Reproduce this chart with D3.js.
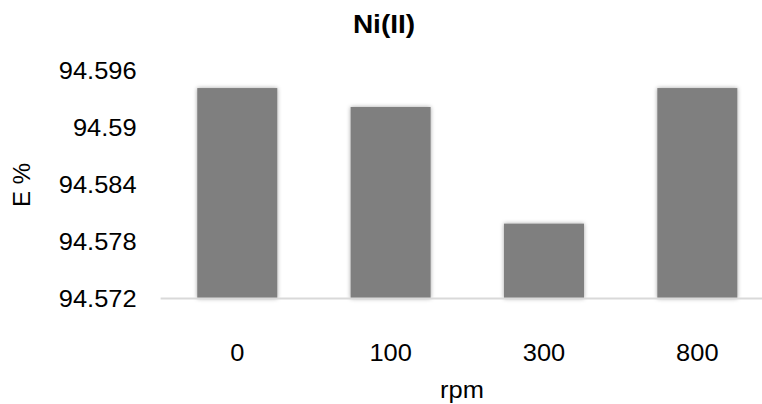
<!DOCTYPE html>
<html>
<head>
<meta charset="utf-8">
<script src="https://cdn.jsdelivr.net/npm/d3@7"></script>
<style>
  html, body { margin: 0; padding: 0; background: #fff; }
  svg { display: block; }
  text { font-family: "Liberation Sans", Arial, sans-serif; fill: #000; }
</style>
</head>
<body>
<svg id="chart" width="762" height="404"></svg>
<script>
const categories = ["0", "100", "300", "800"];
const values = [94.5942, 94.5922, 94.5799, 94.5942];
const yTicks = [94.572, 94.578, 94.584, 94.59, 94.596];
const title = "Ni(II)";
const xTitle = "rpm";
const yTitle = "E %";

const W = 762, H = 404;
const svg = d3.select("#chart");

const defs = svg.append("defs");
const f = defs.append("filter").attr("id", "shadow")
  .attr("x", "-20%").attr("y", "-10%").attr("width", "140%").attr("height", "120%");
f.append("feDropShadow").attr("dx", 0).attr("dy", 0)
  .attr("stdDeviation", 2).attr("flood-color", "#000").attr("flood-opacity", 0.35);

const x = d3.scaleBand().domain(categories).range([160.6, 774]).paddingInner(0.478).paddingOuter(0.239);
const y = d3.scaleLinear().domain([94.572, 94.596]).range([298.5, 71]);

function stretch(sel, k) {
  sel.each(function () {
    const len = this.getComputedTextLength();
    d3.select(this).attr("textLength", len * k).attr("lengthAdjust", "spacingAndGlyphs");
  });
}

// bars
svg.append("g").selectAll("rect")
  .data(values)
  .join("rect")
  .attr("x", (d, i) => x(categories[i]))
  .attr("width", x.bandwidth())
  .attr("y", d => y(d))
  .attr("height", d => y(94.572) - y(d))
  .attr("fill", "#7f7f7f")
  .attr("filter", "url(#shadow)");

// x axis line
svg.append("line")
  .attr("x1", x.range()[0]).attr("x2", x.range()[1])
  .attr("y1", y(94.572)).attr("y2", y(94.572))
  .attr("stroke", "#d9d9d9").attr("stroke-width", 2);

// y axis
const yAxis = svg.append("g")
  .attr("transform", "translate(160.6,0)")
  .call(d3.axisLeft(y).tickValues(yTicks).tickSize(0).tickPadding(24).tickFormat(d => String(+d.toFixed(3))));
yAxis.select(".domain").remove();
yAxis.selectAll("text")
  .attr("font-size", 24)
  .attr("font-family", "Liberation Sans, Arial, sans-serif")
  .attr("fill", "#000")
  .call(stretch, 1.06);

// x axis labels
const xAxis = svg.append("g")
  .attr("transform", "translate(0,298.5)")
  .call(d3.axisBottom(x).tickSize(0).tickPadding(0));
xAxis.select(".domain").remove();
xAxis.selectAll("text")
  .attr("font-size", 24)
  .attr("font-family", "Liberation Sans, Arial, sans-serif")
  .attr("fill", "#000")
  .attr("dy", null)
  .attr("y", 62)
  .call(stretch, 1.06);

// title
svg.append("text")
  .attr("x", 384).attr("y", 33.3)
  .attr("text-anchor", "middle")
  .attr("font-size", 25).attr("font-weight", "bold")
  .text(title)
  .call(stretch, 1.12);

// x title
svg.append("text")
  .attr("x", 462).attr("y", 398)
  .attr("text-anchor", "middle")
  .attr("font-size", 24)
  .text(xTitle)
  .call(stretch, 1.06);

// y title
svg.append("text")
  .attr("transform", "translate(30,185) rotate(-90)")
  .attr("text-anchor", "middle")
  .attr("font-size", 24)
  .text(yTitle);
</script>
</body>
</html>
